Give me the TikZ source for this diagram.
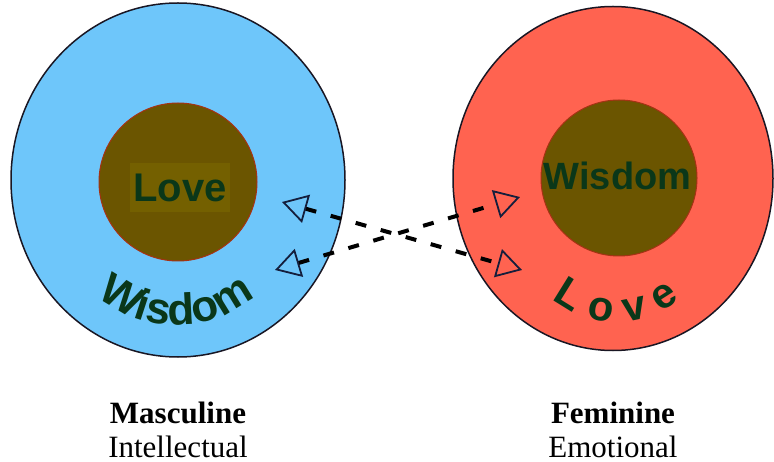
\documentclass[tikz,border=0pt]{standalone}
\usepackage{fontspec}
\setmainfont{Liberation Serif}
\newfontfamily\wordart{Liberation Sans}
\usetikzlibrary{shapes.geometric,arrows.meta,decorations.text}
\definecolor{sky}{RGB}{110,198,250}
\definecolor{salmon}{RGB}{255,99,80}
\definecolor{rim}{RGB}{25,22,35}
\definecolor{coreolive}{RGB}{107,85,0}
\definecolor{tagolive}{RGB}{116,96,0}
\definecolor{corerim}{RGB}{165,50,20}
\definecolor{leaf}{RGB}{10,55,25}
\definecolor{headcol}{RGB}{20,30,60}
\newcommand\arcword[1]{\wordart\bfseries\fontsize{#1}{#1}\selectfont\color{leaf}}

\begin{document}
\begin{tikzpicture}[x=1pt, y=1pt,
    outer/.style={ellipse, draw=rim, line width=1.5pt, inner sep=0pt},
    core/.style={circle, draw=corerim, line width=1pt, fill=coreolive, inner sep=0pt, minimum size=#1},
    word/.style={font=\wordart\bfseries\fontsize{#1}{#1}\selectfont, text=leaf, inner sep=0pt},
    headline/.style={font=\bfseries\fontsize{31}{31}\selectfont, anchor=base, inner sep=0pt},
    subline/.style={font=\fontsize{31}{31}\selectfont, anchor=base, inner sep=0pt},
    link/.style={line width=4pt, dash pattern=on 11pt off 15pt,
        arrows={Triangle[open, length=25pt, width=29pt, line width=1.8pt, color=headcol]-Triangle[open, length=25pt, width=29pt, line width=1.8pt, color=headcol]}}]
    \useasboundingbox (0,0) rectangle (774,461);

    \node[outer, fill=sky, minimum width=334pt, minimum height=354pt] (male) at (178,281) {};
    \node[core=158pt] (malecore) at (178,279) {};
    \node[word=40, fill=tagolive, minimum width=100pt, minimum height=49pt] (malelove) at (180,273.5) {Love};
    \coordinate (malearc) at (176,256);
    \path[decorate, decoration={text along path, text align=center,
        text={|\arcword{44}|Wisdom}}]
        ([shift={(224:120)}]malearc) arc[start angle=224, end angle=316, radius=120];

    \node[outer, fill=salmon, minimum width=320pt, minimum height=344pt] (female) at (613,282.5) {};
    \node[core=156pt] (femalecore) at (619,283) {};
    \node[word=38, anchor=base] (femalewisdom) at (617.5,271) {Wisdom};
    \coordinate (femalearc) at (616,241);
    \path[decorate, decoration={text along path, text align=fit to path,
        text={|\arcword{42}|Love}}]
        ([shift={(231:102)}]femalearc) arc[start angle=231, end angle=309, radius=102];

    \coordinate (mtop) at (282,259);
    \coordinate (mlow) at (275,191);
    \coordinate (ftop) at (520,264);
    \coordinate (flow) at (522,191);
    \draw[link] (mtop) -- (flow);
    \draw[link] (mlow) -- (ftop);

    \node[headline] (masc) at (178,38) {Masculine};
    \node[subline] (intel) at (178,4) {Intellectual};
    \node[headline] (fem) at (613,38) {Feminine};
    \node[subline] (emot) at (613,4) {Emotional};
\end{tikzpicture}
\end{document}
